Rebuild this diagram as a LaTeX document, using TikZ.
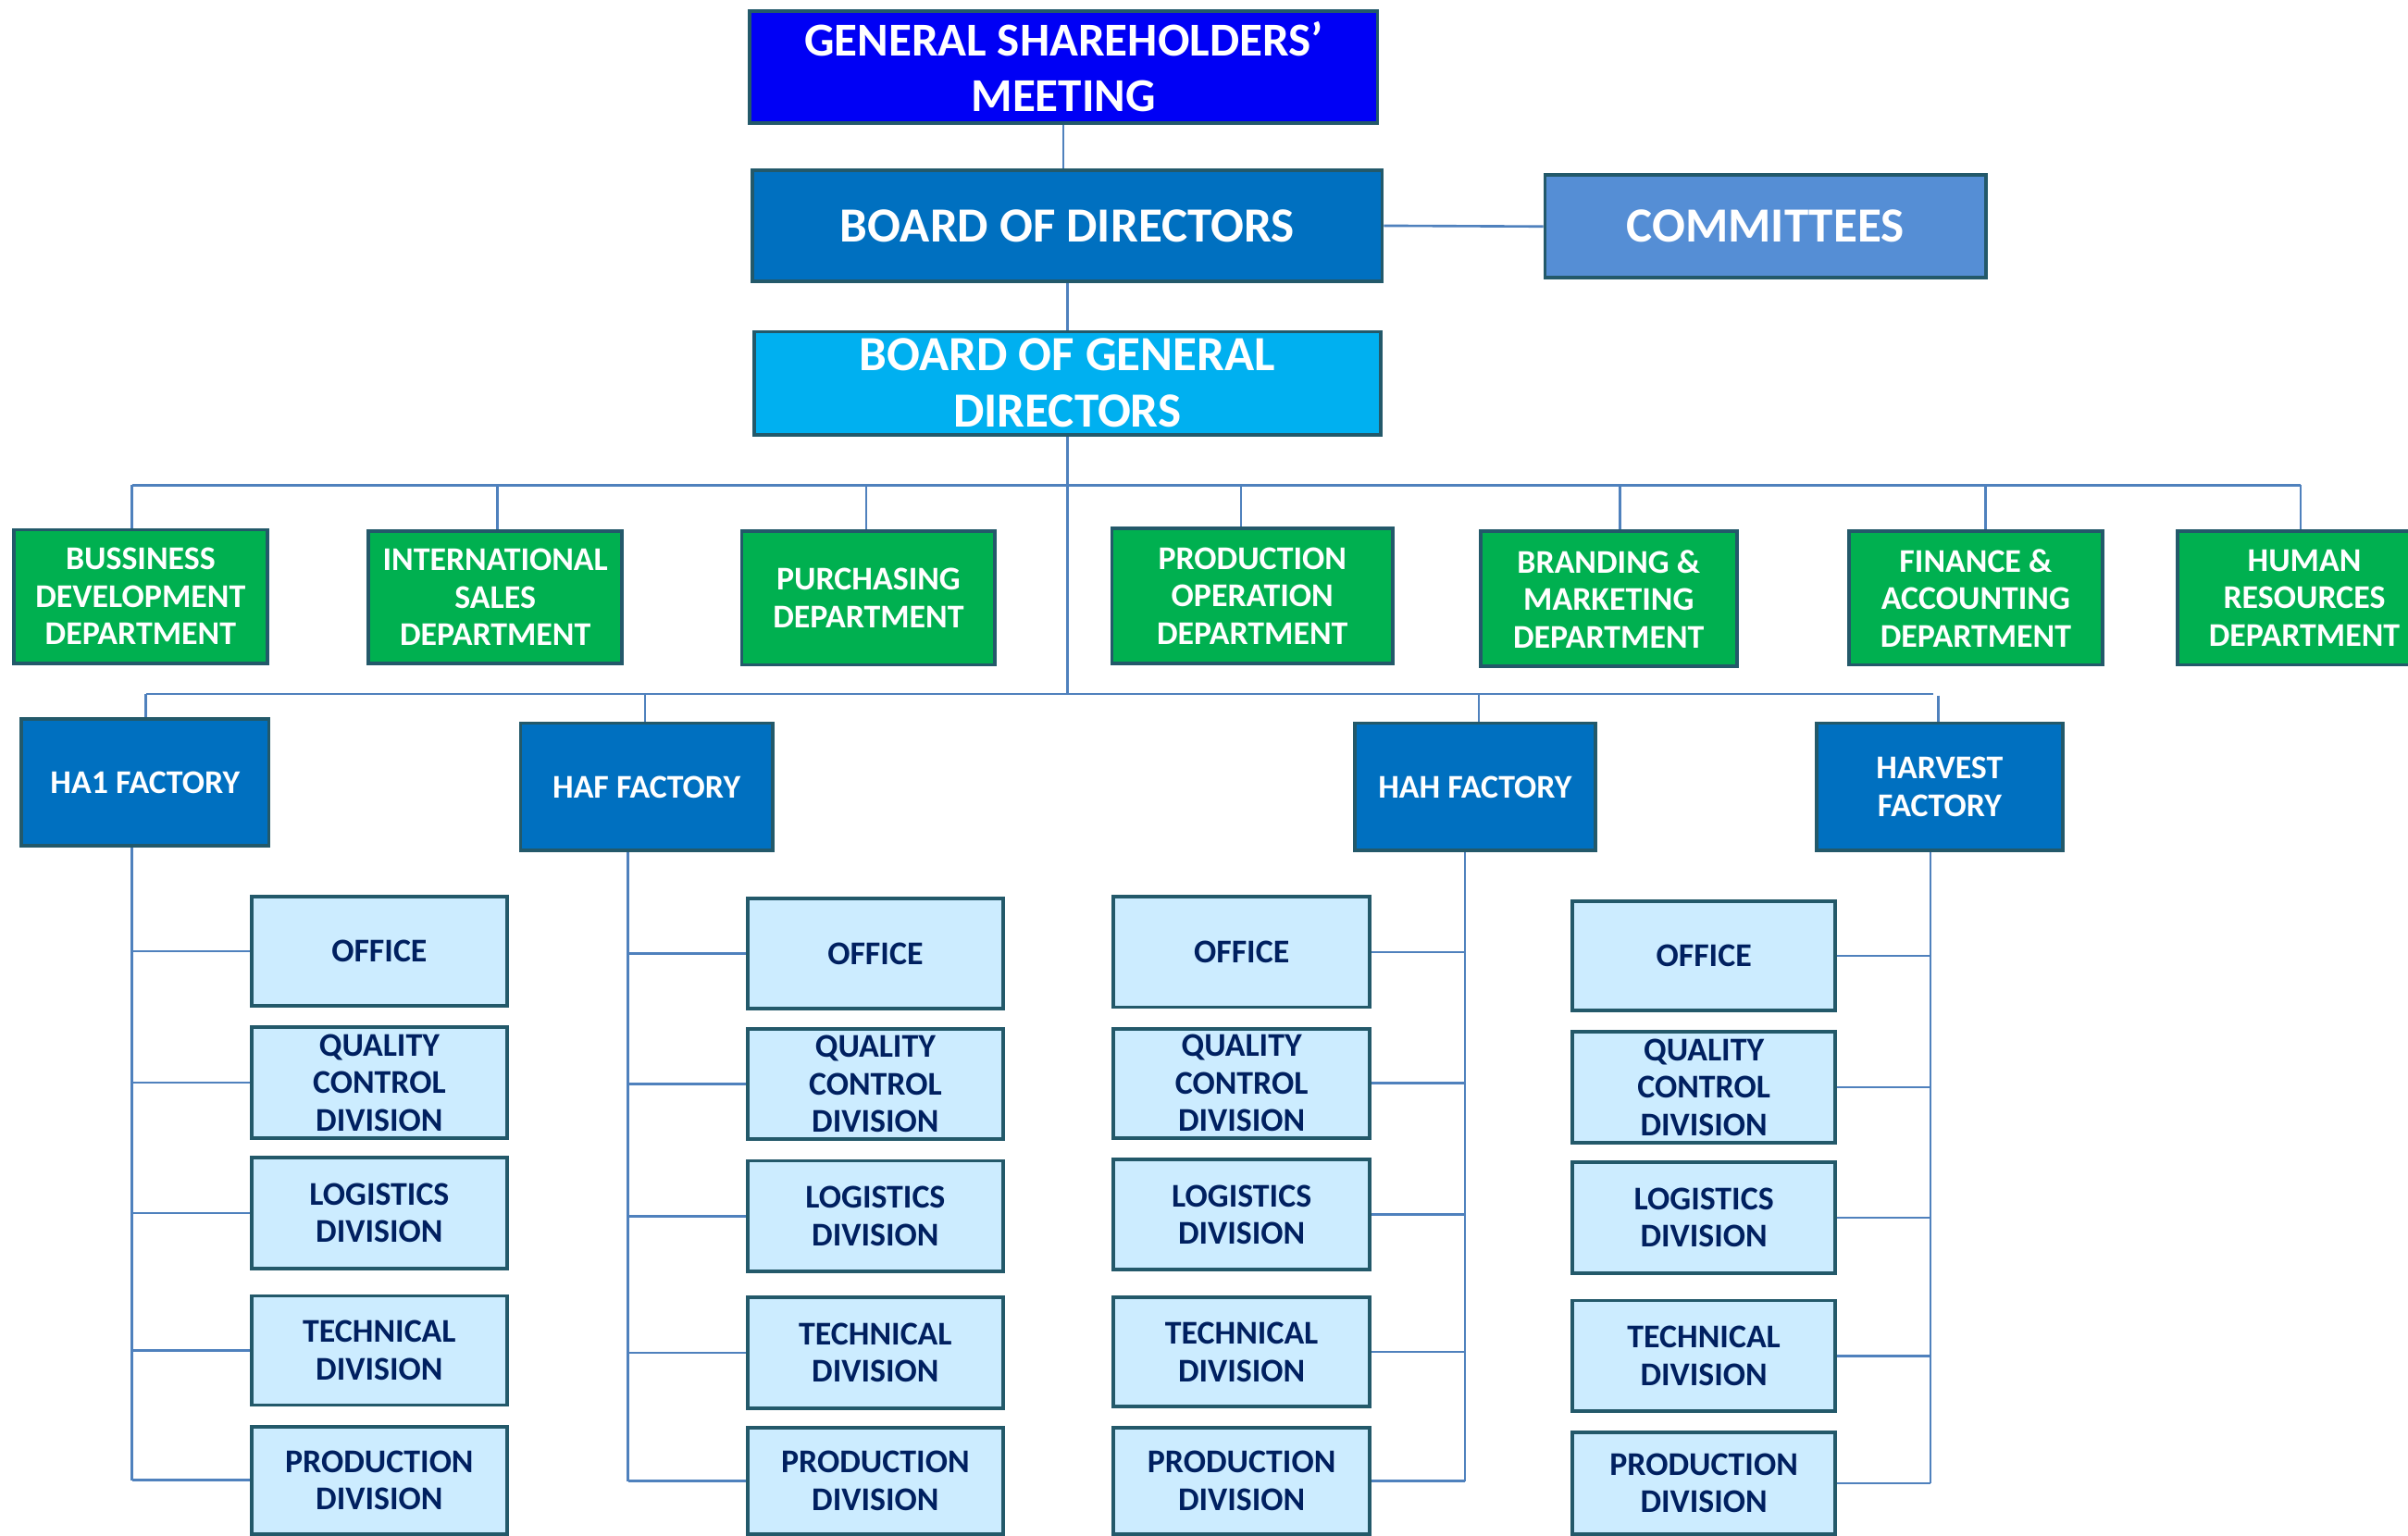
\documentclass[tikz,border=0pt]{standalone}
\usepackage{fontspec}
\setmainfont{Carlito}
\definecolor{bordc}{HTML}{23596A}
\definecolor{linkc}{HTML}{4F81BD}
\definecolor{gsmc}{HTML}{0000F5}
\definecolor{bodc}{HTML}{0070C0}
\definecolor{comc}{HTML}{558ED5}
\definecolor{bgdc}{HTML}{00B0F0}
\definecolor{depc}{HTML}{00B050}
\definecolor{facc}{HTML}{0070C0}
\definecolor{divc}{HTML}{CCECFF}
\definecolor{divt}{HTML}{002060}
\tikzset{
  box/.style={draw=bordc, line width=1.3pt, inner sep=0pt, align=center,
    font=\bfseries\fontsize{12.3}{13.9}\selectfont},
  gsmbox/.style={box, fill=gsmc, text=white, font=\bfseries\fontsize{17.5}{20.5}\selectfont},
  bodbox/.style={box, fill=bodc, text=white, font=\bfseries\fontsize{18.2}{21}\selectfont},
  combox/.style={box, fill=comc, text=white, font=\bfseries\fontsize{18.2}{21}\selectfont},
  bgdbox/.style={box, fill=bgdc, text=white, font=\bfseries\fontsize{18.2}{21}\selectfont},
  depbox/.style={box, fill=depc, text=white},
  facbox/.style={box, fill=facc, text=white},
  divbox/.style={box, fill=divc, text=divt},
  link/.style={draw=linkc, line width=0.9pt},
}
\newcommand\mkbox[7]{%
  \node[#6, minimum width={(#4-#2)*0.02cm}, minimum height={(#5-#3)*0.02cm}]
    (#1) at ({(#2+#4)/2},{(#3+#5)/2}) {#7};}
\begin{document}
\begin{tikzpicture}[x=0.02cm, y=-0.02cm]
\useasboundingbox (0,0) rectangle (1568,1000);
\clip (0,0) rectangle (1568,1000);
\fill[white] (0,0) rectangle (1568,1000);

% top levels
\mkbox{gsm}{488}{7}{897}{80}{gsmbox}{GENERAL SHAREHOLDERS’\\MEETING}
\mkbox{bod}{490}{111}{900}{183}{bodbox}{BOARD OF DIRECTORS}
\mkbox{com}{1006}{114}{1293}{181}{combox}{COMMITTEES}
\mkbox{bgd}{491}{216}{899}{283}{bgdbox}{BOARD OF GENERAL\\DIRECTORS}

% departments
\mkbox{dep1}{9}{345}{174}{432}{depbox}{BUSSINESS\\DEVELOPMENT\\DEPARTMENT}
\mkbox{dep2}{240}{346}{405}{432}{depbox}{INTERNATIONAL\\SALES\\DEPARTMENT}
\mkbox{dep3}{483}{346}{648}{433}{depbox}{PURCHASING\\DEPARTMENT}
\mkbox{dep4}{724}{344}{907}{432}{depbox}{PRODUCTION\\OPERATION\\DEPARTMENT}
\mkbox{dep5}{964}{346}{1131}{434}{depbox}{BRANDING \&\\MARKETING\\DEPARTMENT}
\mkbox{dep6}{1204}{346}{1369}{433}{depbox}{FINANCE \&\\ACCOUNTING\\DEPARTMENT}
\mkbox{dep7}{1418}{346}{1583}{433}{depbox}{HUMAN\\RESOURCES\\DEPARTMENT}

% factories
\mkbox{ha1}{14}{468}{175}{551}{facbox}{HA1 FACTORY}
\mkbox{haf}{339}{471}{503}{554}{facbox}{HAF FACTORY}
\mkbox{hah}{882}{471}{1039}{554}{facbox}{HAH FACTORY}
\mkbox{hv}{1183}{471}{1343}{554}{facbox}{HARVEST\\FACTORY}

% divisions, column 1
\mkbox{o1}{164}{584}{330}{655}{divbox}{OFFICE}
\mkbox{q1}{164}{669}{330}{741}{divbox}{QUALITY\\CONTROL\\DIVISION}
\mkbox{l1}{164}{754}{330}{826}{divbox}{LOGISTICS\\DIVISION}
\mkbox{t1}{164}{844}{330}{915}{divbox}{TECHNICAL\\DIVISION}
\mkbox{p1}{164}{929}{330}{999}{divbox}{PRODUCTION\\DIVISION}
% column 2
\mkbox{o2}{487}{585}{653}{657}{divbox}{OFFICE}
\mkbox{q2}{487}{670}{653}{742}{divbox}{QUALITY\\CONTROL\\DIVISION}
\mkbox{l2}{487}{756}{653}{828}{divbox}{LOGISTICS\\DIVISION}
\mkbox{t2}{487}{845}{653}{917}{divbox}{TECHNICAL\\DIVISION}
\mkbox{p2}{487}{930}{653}{999}{divbox}{PRODUCTION\\DIVISION}
% column 3
\mkbox{o3}{725}{584}{892}{656}{divbox}{OFFICE}
\mkbox{q3}{725}{670}{892}{741}{divbox}{QUALITY\\CONTROL\\DIVISION}
\mkbox{l3}{725}{755}{892}{827}{divbox}{LOGISTICS\\DIVISION}
\mkbox{t3}{725}{845}{892}{916}{divbox}{TECHNICAL\\DIVISION}
\mkbox{p3}{725}{930}{892}{999}{divbox}{PRODUCTION\\DIVISION}
% column 4
\mkbox{o4}{1024}{587}{1195}{658}{divbox}{OFFICE}
\mkbox{q4}{1024}{672}{1195}{744}{divbox}{QUALITY\\CONTROL\\DIVISION}
\mkbox{l4}{1024}{757}{1195}{829}{divbox}{LOGISTICS\\DIVISION}
\mkbox{t4}{1024}{847}{1195}{919}{divbox}{TECHNICAL\\DIVISION}
\mkbox{p4}{1024}{933}{1195}{999}{divbox}{PRODUCTION\\DIVISION}

% top connectors
\draw[link] (gsm.south) -- (gsm.south |- bod.north);
\draw[link] (bod.south) -- (bod.south |- bgd.north);
\draw[link] (bod.east) -- (com.west);

% department bus
\coordinate (d1) at (86,316);
\coordinate (d2) at (324,316);
\coordinate (d3) at (564,316);
\coordinate (d4) at (808,316);
\coordinate (d5) at (1055,316);
\coordinate (d6) at (1293,316);
\coordinate (d7) at (1498,316);
\draw[link] (d1) -- (d7);
\foreach \i in {1,...,7} {\draw[link] (d\i) -- (d\i |- dep\i.north);}

% factory bus
\coordinate (fb1) at (95,452);
\coordinate (fb2) at (420,452);
\coordinate (fb3) at (963,452);
\coordinate (fbe) at (1259,452);
\coordinate (fb4) at (1262,453);
\draw[link] (bgd.south) -- (bgd.south |- fb1);
\draw[link] (fb1) -- (fbe);
\draw[link] (fb1) -- (fb1 |- ha1.north);
\draw[link] (fb2) -- (fb2 |- haf.north);
\draw[link] (fb3) -- (fb3 |- hah.north);
\draw[link] (fb4) -- (fb4 |- hv.north);

% factory spines
\coordinate (s1) at (86,0);
\coordinate (s2) at (409,0);
\coordinate (s3) at (954,0);
\coordinate (s4) at (1257,0);
\draw[link] (s1 |- ha1.south) -- (s1 |- p1.west);
\draw[link] (s2 |- haf.south) -- (s2 |- p2.west);
\draw[link] (s3 |- hah.south) -- (s3 |- p3.east);
\draw[link] (s4 |- hv.south) -- (s4 |- p4.east);
\foreach \r in {o,q,l,t,p} {
  \draw[link] (\r1.west) -- (s1 |- \r1.west);
  \draw[link] (\r2.west) -- (s2 |- \r2.west);
  \draw[link] (\r3.east) -- (s3 |- \r3.east);
  \draw[link] (\r4.east) -- (s4 |- \r4.east);
}
\end{tikzpicture}
\end{document}
